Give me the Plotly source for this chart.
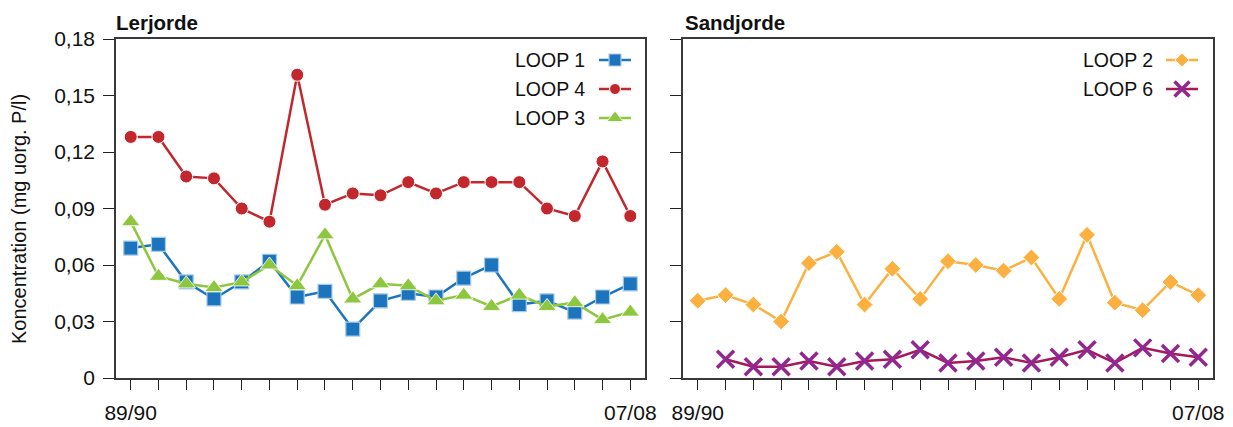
import plotly.graph_objects as go

# Seasons on the x axis
seasons = ["89/90", "90/91", "91/92", "92/93", "93/94", "94/95", "95/96", "96/97",
           "97/98", "98/99", "99/00", "00/01", "01/02", "02/03", "03/04", "04/05",
           "05/06", "06/07", "07/08"]
season_ticktext = ["89/90"] + [""] * 17 + ["07/08"]

# Lerjorde (clay soil) catchments
loop1 = [0.069, 0.071, 0.051, 0.042, 0.051, 0.062, 0.043, 0.046, 0.026, 0.041,
         0.045, 0.043, 0.053, 0.060, 0.039, 0.041, 0.035, 0.043, 0.050]
loop4 = [0.128, 0.128, 0.107, 0.106, 0.090, 0.083, 0.161, 0.092, 0.098, 0.097,
         0.104, 0.098, 0.104, 0.104, 0.104, 0.090, 0.086, 0.115, 0.086]
loop3 = [0.083, 0.054, 0.050, 0.048, 0.051, 0.060, 0.049, 0.076, 0.042, 0.050,
         0.049, 0.041, 0.044, 0.038, 0.044, 0.038, 0.040, 0.031, 0.035]

# Sandjorde (sandy soil) catchments
loop2 = [0.041, 0.044, 0.039, 0.030, 0.061, 0.067, 0.039, 0.058, 0.042, 0.062,
         0.060, 0.057, 0.064, 0.042, 0.076, 0.040, 0.036, 0.051, 0.044]
loop6 = [None, 0.010, 0.006, 0.006, 0.009, 0.006, 0.009, 0.010, 0.015, 0.008,
         0.009, 0.011, 0.008, 0.011, 0.015, 0.008, 0.016, 0.013, 0.011]

y_tickvals = [0, 0.03, 0.06, 0.09, 0.12, 0.15, 0.18]
y_ticktext = ["0", "0,03", "0,06", "0,09", "0,12", "0,15", "0,18"]

W, H = 1233, 427
FONT = "Liberation Sans, Arial, Helvetica, sans-serif"
TICK_SIZE = 21

styles = {
    "LOOP 1": dict(line=dict(color="#1C75BC", width=2.5),
                   marker=dict(symbol="square", size=14, color="#1C75BC",
                               line=dict(color="#A8CBEA", width=1.2))),
    "LOOP 4": dict(line=dict(color="#C1272D", width=2.5),
                   marker=dict(symbol="circle", size=13, color="#C1272D",
                               line=dict(color="white", width=1))),
    "LOOP 3": dict(line=dict(color="#8DC63F", width=2.5),
                   marker=dict(symbol="triangle-up", size=16, color="#8DC63F",
                               line=dict(color="white", width=0.8))),
    "LOOP 2": dict(line=dict(color="#FBB040", width=2.5),
                   marker=dict(symbol="diamond", size=13, color="#FBB040",
                               line=dict(color="white", width=1))),
    "LOOP 6": dict(line=dict(color="#A3195B", width=2.5),
                   marker=dict(symbol="x-thin", size=17, color="#92278F",
                               line=dict(color="#92278F", width=3.5))),
}

fig = go.Figure()

def add_series(name, values, xa, ya):
    st = styles[name]
    fig.add_trace(go.Scatter(x=seasons, y=values, mode="lines+markers", name=name,
                             line=st["line"], marker=st["marker"],
                             connectgaps=False, showlegend=False,
                             xaxis=xa, yaxis=ya, cliponaxis=False))

# draw order: blue under green under red in the left panel
add_series("LOOP 1", loop1, "x", "y")
add_series("LOOP 3", loop3, "x", "y")
add_series("LOOP 4", loop4, "x", "y")
add_series("LOOP 2", loop2, "x2", "y2")
add_series("LOOP 6", loop6, "x2", "y2")

# pixel-based helpers for the panel geometry
def px_x(p):
    return p / W

def px_y(p):
    return 1 - p / H

plot_top, plot_bottom = 39, 378
left_dom = [px_x(116), px_x(645)]
right_dom = [px_x(683), px_x(1213)]
y_dom = [px_y(plot_bottom), px_y(plot_top)]

axis_line = dict(showline=True, linecolor="#3a3a3a", linewidth=1.6, mirror=True,
                 showgrid=False, zeroline=False, ticks="outside", tickcolor="#222",
                 tickwidth=1.2, automargin=False)

xcommon = dict(axis_line, type="category", range=[-0.53, 18.53],
               tickvals=seasons, ticktext=season_ticktext, ticklen=10,
               tickfont=dict(size=TICK_SIZE, color="#111", family=FONT),
               ticklabelstandoff=5)
ycommon = dict(axis_line, range=[0, 0.18], tickvals=y_tickvals, ticklen=11,
               domain=y_dom, tickfont=dict(size=TICK_SIZE, color="#111", family=FONT))

fig.update_layout(
    width=W, height=H,
    margin=dict(l=0, r=0, t=0, b=0),
    paper_bgcolor="white", plot_bgcolor="rgba(0,0,0,0)",
    font=dict(family=FONT, color="#111"),
    showlegend=False,
    xaxis=dict(xcommon, domain=left_dom, anchor="y"),
    yaxis=dict(ycommon, anchor="x", ticktext=y_ticktext, ticklabelstandoff=4),
    xaxis2=dict(xcommon, domain=right_dom, anchor="y2"),
    yaxis2=dict(ycommon, anchor="x2", showticklabels=False),
    # overlay in page pixels for the legend keys
    xaxis3=dict(domain=[0, 1], range=[0, W], visible=False, anchor="y3"),
    yaxis3=dict(domain=[0, 1], range=[H, 0], visible=False, anchor="x3"),
)

annotations = [
    dict(text="<b>Lerjorde</b>", x=px_x(114), y=px_y(22), xref="paper", yref="paper",
         xanchor="left", yanchor="middle", showarrow=False,
         font=dict(size=20.5, family=FONT, color="#111")),
    dict(text="<b>Sandjorde</b>", x=px_x(683), y=px_y(22), xref="paper", yref="paper",
         xanchor="left", yanchor="middle", showarrow=False,
         font=dict(size=20.5, family=FONT, color="#111")),
    dict(text="Koncentration (mg uorg. P/l)", x=px_x(19), y=px_y(219),
         xref="paper", yref="paper", textangle=-90, showarrow=False,
         xanchor="center", yanchor="middle",
         font=dict(size=20, family=FONT, color="#111")),
]

# legend entries: right-aligned label followed by a line/marker key
legend_items = [
    ("LOOP 1", 587, 60, 599, 631),
    ("LOOP 4", 587, 89, 599, 631),
    ("LOOP 3", 587, 118, 599, 631),
    ("LOOP 2", 1155, 60, 1166, 1198),
    ("LOOP 6", 1155, 89, 1166, 1198),
]
for name, tx, ty, x0, x1 in legend_items:
    annotations.append(dict(text=name, x=px_x(tx), y=px_y(ty), xref="paper", yref="paper",
                            xanchor="right", yanchor="middle", showarrow=False,
                            font=dict(size=19.5, family=FONT, color="#111")))
    st = styles[name]
    mk = dict(st["marker"])
    mk["size"] = mk["size"] - 2
    fig.add_trace(go.Scatter(x=[x0, x1], y=[ty, ty], mode="lines",
                             line=dict(color=st["line"]["color"], width=2.5),
                             xaxis="x3", yaxis="y3", showlegend=False, hoverinfo="skip"))
    fig.add_trace(go.Scatter(x=[(x0 + x1) / 2], y=[ty], mode="markers", marker=mk,
                             xaxis="x3", yaxis="y3", showlegend=False, hoverinfo="skip"))

fig.update_layout(annotations=annotations)
fig.write_html("out.html")
